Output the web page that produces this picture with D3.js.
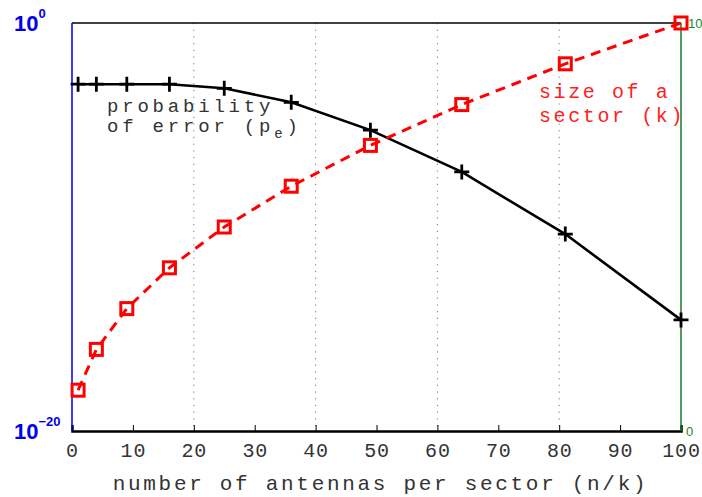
<!DOCTYPE html>
<html>
<head>
<meta charset="utf-8">
<script src="https://cdn.jsdelivr.net/npm/d3@7"></script>
<style>
  body { margin: 0; background: #fff; }
  svg { display: block; }
</style>
</head>
<body>
<div id="chart"></div>
<script>
// Probability of error vs. size of a sector, against antennas per sector

const antennasPerSector = [1, 4, 9, 16, 25, 36, 49, 64, 81, 100];
const sectorSize = [1, 2, 3, 4, 5, 6, 7, 8, 9, 10];
const probError = [1e-3, 1e-3, 1e-3, 1e-3, 6.3e-4, 1.3e-4, 5.6e-6, 5e-8, 4.5e-11, 2.8e-15];
const xTicks = [0, 10, 20, 30, 40, 50, 60, 70, 80, 90, 100];
const gridTicks = [20, 40, 60, 80];

function drawChart() {
    const width = 702, height = 497;
    const m = { left: 72, right: 21, top: 23, bottom: 66 };
    const mono = "'Liberation Mono', 'Courier New', monospace";

    const svg = d3.select("#chart").append("svg")
        .attr("width", width)
        .attr("height", height);

    const x = d3.scaleLinear().domain([0, 100]).range([m.left, width - m.right]);
    const yPe = d3.scaleLog().domain([1e-20, 1]).range([height - m.bottom, m.top]);
    const yK = d3.scaleLinear().domain([0, 10]).range([height - m.bottom, m.top]);

    const x0 = x(0), x1 = x(100), yb = yK(0), yt = yK(10);

    // dotted grid
    svg.selectAll("line.grid")
        .data(gridTicks)
        .enter()
        .append("line")
        .attr("x1", d => x(d)).attr("x2", d => x(d))
        .attr("y1", yt).attr("y2", yb)
        .attr("stroke", "#777")
        .attr("stroke-width", 1)
        .attr("stroke-dasharray", "1.2,5.5");

    // top border
    svg.append("line")
        .attr("x1", x0).attr("x2", x1).attr("y1", yt).attr("y2", yt)
        .attr("stroke", "#000").attr("stroke-width", 1.5);

    // bottom axis
    const xAxis = svg.append("g")
        .attr("transform", `translate(0,${yb})`)
        .call(d3.axisBottom(x).tickValues(xTicks).tickSize(-6).tickPadding(12));
    xAxis.select(".domain").attr("stroke-width", 2.5);
    xAxis.selectAll(".tick line").attr("stroke-width", 1);
    xAxis.selectAll("text")
        .attr("font-family", mono)
        .attr("font-size", 20)
        .attr("letter-spacing", 0.8)
        .attr("fill", "#333")
        .attr("dy", "0.72em");

    // left (blue) and right (green) axis lines
    svg.append("line")
        .attr("x1", x0).attr("x2", x0).attr("y1", yt).attr("y2", yb)
        .attr("stroke", "#0000ee").attr("stroke-width", 1.5);
    svg.append("line")
        .attr("x1", x1).attr("x2", x1).attr("y1", yt).attr("y2", yb)
        .attr("stroke", "#1a7a2a").attr("stroke-width", 1.5);

    // left labels 10^0, 10^-20
    const leftLabels = [{ v: 1, exp: "0" }, { v: 1e-20, exp: "\u221220" }];
    leftLabels.forEach(l => {
        const t = svg.append("text")
            .attr("x", 14)
            .attr("y", yPe(l.v) + 8)
            .attr("font-family", "'Liberation Sans', Arial, sans-serif")
            .attr("font-weight", "bold")
            .attr("font-size", 22)
            .attr("fill", "#0000ee");
        t.append("tspan").text("10");
        t.append("tspan").attr("dy", -13).attr("font-size", 13).text(l.exp);
    });

    // right labels 10, 0
    [{ v: 10, dx: 7 }, { v: 0, dx: 5 }].forEach(r => {
        svg.append("text")
            .attr("x", x1 + r.dx)
            .attr("y", yK(r.v) + 5)
            .attr("font-family", "'Liberation Sans', Arial, sans-serif")
            .attr("font-size", 13)
            .attr("fill", "#1a8a1a")
            .text(r.v);
    });

    // probability of error (black, plus markers)
    const pe = antennasPerSector.map((n, i) => [n, probError[i]]);
    svg.append("path")
        .datum(pe)
        .attr("fill", "none")
        .attr("stroke", "#000")
        .attr("stroke-width", 2.6)
        .attr("d", d3.line().x(d => x(d[0])).y(d => yPe(d[1])));
    svg.selectAll("path.plus")
        .data(pe)
        .enter()
        .append("path")
        .attr("transform", d => `translate(${x(d[0])},${yPe(d[1])})`)
        .attr("d", "M-7.5,0H7.5M0,-7.5V7.5")
        .attr("stroke", "#000")
        .attr("stroke-width", 2.8);

    // size of a sector (red dashed, square markers)
    const ks = antennasPerSector.map((n, i) => [n, sectorSize[i]]);
    svg.append("path")
        .datum(ks)
        .attr("fill", "none")
        .attr("stroke", "#ff0000")
        .attr("stroke-width", 3)
        .attr("stroke-dasharray", "10,7")
        .attr("d", d3.line().x(d => x(d[0])).y(d => yK(d[1])));
    svg.selectAll("rect.sq")
        .data(ks)
        .enter()
        .append("rect")
        .attr("x", d => x(d[0]) - 6)
        .attr("y", d => yK(d[1]) - 6)
        .attr("width", 12)
        .attr("height", 12)
        .attr("fill", "none")
        .attr("stroke", "#ff0000")
        .attr("stroke-width", 3);

    // annotations
    const note = svg.append("text")
        .attr("font-family", mono)
        .attr("font-size", 19)
        .attr("letter-spacing", 3.8)
        .attr("fill", "#333");
    note.append("tspan").attr("x", 107).attr("y", 112).text("probability");
    note.append("tspan").attr("x", 107).attr("y", 132).text("of error (p");
    note.append("tspan").attr("dy", 6).attr("font-size", 14).text("e");
    note.append("tspan").attr("dy", -6).text(")");

    const knote = svg.append("text")
        .attr("font-family", mono)
        .attr("font-size", 20)
        .attr("letter-spacing", 2.6)
        .attr("fill", "#ff2020");
    knote.append("tspan").attr("x", 539).attr("y", 98).text("size of a");
    knote.append("tspan").attr("x", 539).attr("y", 122).text("sector (k)");

    // x label
    svg.append("text")
        .attr("x", (x0 + x1) / 2 + 4)
        .attr("y", 490)
        .attr("text-anchor", "middle")
        .attr("font-family", mono)
        .attr("font-size", 21)
        .attr("letter-spacing", 2.7)
        .attr("fill", "#333")
        .text("number of antennas per sector (n/k)");
}

drawChart();
</script>
</body>
</html>
